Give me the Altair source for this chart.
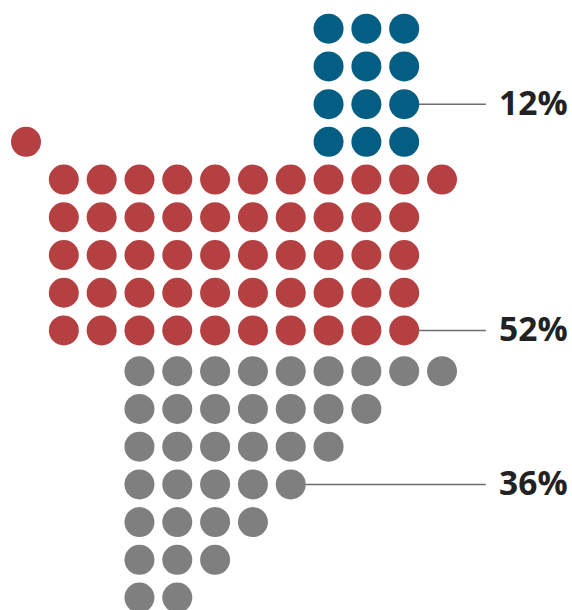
import altair as alt
import pandas as pd

# --- data -------------------------------------------------------------
groups = ["blue", "red", "gray"]
shares = [12, 52, 36]
colors = ["#045e84", "#b54042", "#7f7f7f"]

# each row of dots: group, grid row, first column, number of dots
row_group = ["blue", "blue", "blue", "blue",
             "red", "red", "red", "red", "red", "red",
             "gray", "gray", "gray", "gray", "gray", "gray", "gray"]
row_index = [0, 1, 2, 3,
             3, 4, 5, 6, 7, 8,
             9, 10, 11, 12, 13, 14, 15]
row_start = [8, 8, 8, 8,
             0, 1, 1, 1, 1, 1,
             3, 3, 3, 3, 3, 3, 3]
row_count = [3, 3, 3, 3,
             1, 11, 10, 10, 10, 10,
             9, 7, 6, 5, 4, 3, 2]

# labels: text, row and column of the dot the leader starts from
label_text = ["12%", "52%", "36%"]
label_group = ["blue", "red", "gray"]
label_row = [2, 8, 12]
label_col = [10, 10, 7]

# --- build tables -----------------------------------------------------
group_gap = {"blue": 0.0, "red": 0.0, "gray": 0.08}
recs = []
for g, r, s, n in zip(row_group, row_index, row_start, row_count):
    for c in range(s, s + n):
        recs.append({"group": g, "row": r + group_gap[g], "col": c})
dots = pd.DataFrame(recs)

LINE_END = 12.16
TEXT_X = 12.51
labels = pd.DataFrame({
    "text": label_text,
    "group": label_group,
    "row": [r + group_gap[g] for r, g in zip(label_row, label_group)],
    "col": label_col,
})
labels["end"] = LINE_END
labels["tx"] = TEXT_X

xscale = alt.Scale(domain=[-0.6875, 14.437], range=[0, 572], nice=False, zero=False)
yscale = alt.Scale(domain=[-0.761, 15.41], range=[0, 610], nice=False, zero=False)
cscale = alt.Scale(domain=groups, range=colors)

rules = alt.Chart(labels).mark_rule(color="#6e6e6e", strokeWidth=1.5).encode(
    x=alt.X("col:Q", scale=xscale, axis=None),
    x2="end:Q",
    y=alt.Y("row:Q", scale=yscale, axis=None),
)

points = alt.Chart(dots).mark_circle(size=900, opacity=1).encode(
    x=alt.X("col:Q", scale=xscale, axis=None),
    y=alt.Y("row:Q", scale=yscale, axis=None),
    color=alt.Color("group:N", scale=cscale, legend=None),
)

texts = alt.Chart(labels).mark_text(
    align="left", baseline="middle", font="Open Sans", fontWeight="bold",
    fontSize=33.5, color="#222222", dy=1
).encode(
    x=alt.X("tx:Q", scale=xscale, axis=None),
    y=alt.Y("row:Q", scale=yscale, axis=None),
    text="text:N",
)

chart = alt.layer(rules, points, texts).properties(
    width=572, height=610,
    autosize=alt.AutoSizeParams(type="none"),
    padding=0,
    background="white",
).configure_view(stroke=None)

chart.save("out.html", embed_options={"renderer": "svg", "actions": False})
